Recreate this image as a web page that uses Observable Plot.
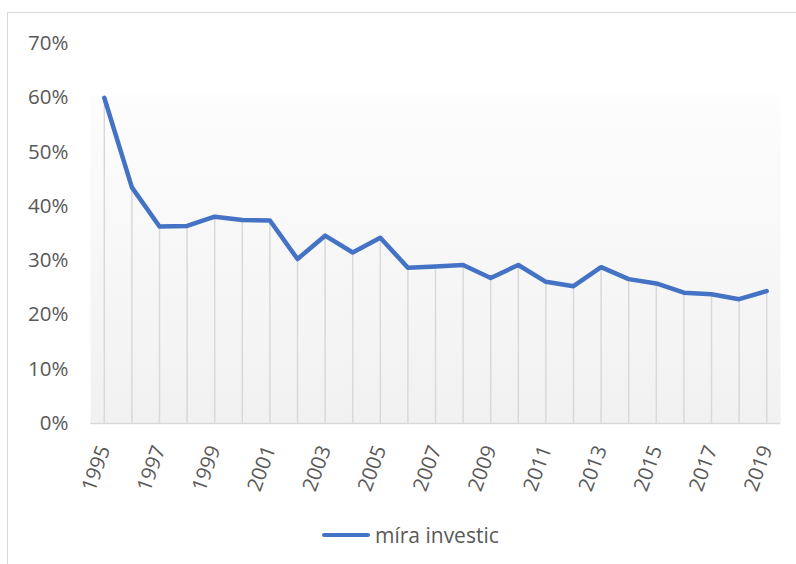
<!DOCTYPE html>
<html>
<head>
<meta charset="utf-8">
<script src="https://cdn.jsdelivr.net/npm/d3@7"></script>
<script src="https://cdn.jsdelivr.net/npm/@observablehq/plot@0.6"></script>
<style>
  html, body { margin: 0; padding: 0; background: #fff; overflow: hidden; }
  #wrap { position: relative; width: 796px; height: 564px; overflow: hidden; }
  #border { position: absolute; left: 7px; top: 12px; width: 900px; height: 700px;
            border: 1.5px solid #d9d9d9; box-sizing: border-box; }
  #chart { position: absolute; left: 0; top: 0; }
  #legend { position: absolute; top: 521px; left: 322px; display: flex; align-items: center;
            font-family: "Open Sans", sans-serif; font-size: 21px; color: #595959; }
  #legend .sw { width: 48px; height: 4px; background: #4472c4; margin-right: 5px; border-radius: 2px; }
</style>
</head>
<body>
<div id="wrap">
  <div id="border"></div>
  <div id="chart"></div>
  <div id="legend"><span class="sw"></span><span id="legtext"></span></div>
</div>
<script>
const years = [1995,1996,1997,1998,1999,2000,2001,2002,2003,2004,2005,2006,2007,2008,2009,2010,2011,2012,2013,2014,2015,2016,2017,2018,2019];
const values = [0.600,0.435,0.363,0.364,0.381,0.375,0.374,0.303,0.346,0.315,0.342,0.287,0.289,0.292,0.268,0.292,0.261,0.253,0.288,0.266,0.258,0.241,0.238,0.229,0.244];
const xTickLabels = [1995,1997,1999,2001,2003,2005,2007,2009,2011,2013,2015,2017,2019];
const yTicks = [0,0.1,0.2,0.3,0.4,0.5,0.6,0.7];
const seriesName = "míra investic";

const data = years.map((y, i) => ({year: y, value: values[i]}));

const chart = Plot.plot({
  width: 796,
  height: 564,
  marginLeft: 90,
  marginRight: 16,
  marginTop: 43,
  marginBottom: 141,
  style: {fontFamily: "'Open Sans', sans-serif", fontSize: "20.5px", color: "#595959", background: "transparent"},
  x: {type: "band", domain: years, padding: 0, round: false},
  y: {domain: [0, 0.7]},
  marks: [
    Plot.frame({fill: "url(#plotbg)", stroke: "none"}),
    Plot.ruleX(data, {x: "year", y1: 0, y2: "value", stroke: "#d9d9d9", strokeWidth: 1.5}),
    Plot.ruleY([0], {stroke: "#d9d9d9", strokeWidth: 1.5}),
    Plot.line(data, {x: "year", y: "value", stroke: "#4472c4", strokeWidth: 4.5, strokeLinejoin: "round", strokeLinecap: "round"}),
    Plot.axisY({ticks: yTicks, tickSize: 0, tickPadding: 22, tickFormat: d3.format(".0%"), label: null, fill: "#595959"}),
    Plot.axisX({ticks: xTickLabels, tickSize: 0, tickPadding: 23, tickRotate: -70, tickFormat: d => String(d), label: null, fill: "#595959"})
  ]
});

const ns = "http://www.w3.org/2000/svg";
const defs = document.createElementNS(ns, "defs");
defs.innerHTML = `<linearGradient id="plotbg" x1="0" y1="0" x2="0" y2="1">
  <stop offset="0" stop-color="#ffffff" stop-opacity="0"/>
  <stop offset="0.132" stop-color="#ffffff" stop-opacity="0"/>
  <stop offset="0.132" stop-color="#fdfdfd"/>
  <stop offset="1" stop-color="#f1f1f1"/>
</linearGradient>`;
chart.insertBefore(defs, chart.firstChild);

document.getElementById("chart").appendChild(chart);
document.getElementById("legtext").textContent = seriesName;
</script>
</body>
</html>
